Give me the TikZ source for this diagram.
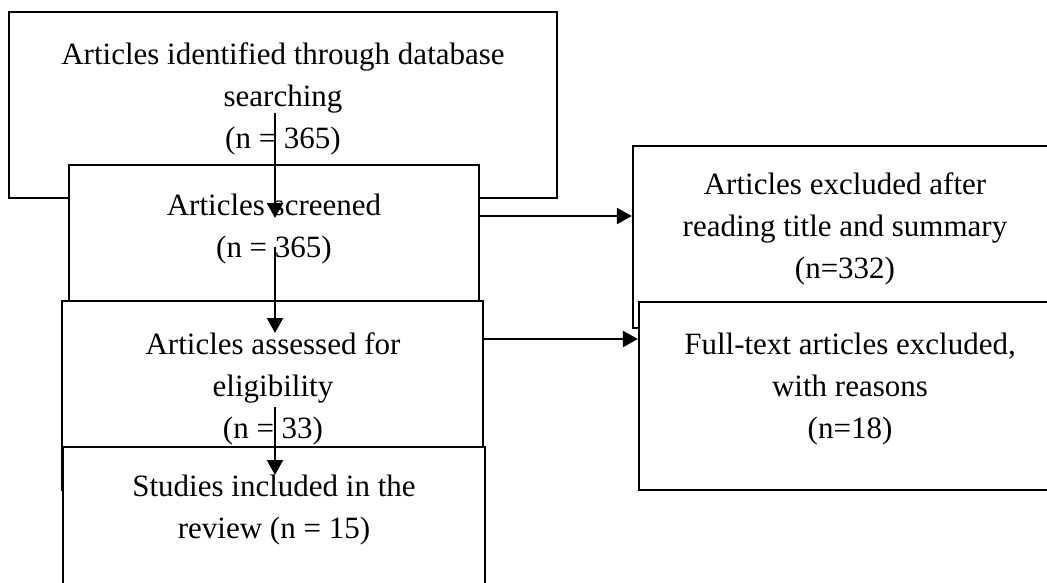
\documentclass[tikz,border=0pt]{standalone}
\usepackage{fontspec}
\setmainfont{Liberation Serif}
\usetikzlibrary{arrows.meta}
\begin{document}
\begin{tikzpicture}[x=1pt,y=-1pt,
  box/.style={draw=black,fill=white,line width=2.2pt,inner sep=0pt,rectangle},
  txt/.style={align=center,inner sep=0pt,font=\fontsize{31}{42}\selectfont,anchor=base},
  arr/.style={line width=2.2pt,-{Triangle[length=15pt,width=16pt]}}]
\useasboundingbox (0,0) rectangle (1047,582);
\clip (0,0) rectangle (1047,582);
% left column
\node[box,minimum width=548pt,minimum height=186pt] (A) at (283,105) {};
\node[txt] (tA) at (283,148) {Articles identified through database\\searching\\(n = 365)};
\node[box,minimum width=410pt,minimum height=136pt] (B) at (274,233) {};
\node[txt] (tB) at (274,257) {Articles screened\\(n = 365)};
\node[box,minimum width=421pt,minimum height=189pt] (C) at (272.5,395.5) {};
\node[txt] (tC) at (273,438) {Articles assessed for\\eligibility\\(n = 33)};
\node[box,minimum width=422pt,minimum height=153pt] (D) at (274,523.5) {};
\node[txt] (tD) at (274,538) {Studies included in the\\review (n = 15)};
% right column
\node[box,minimum width=424pt,minimum height=182pt] (E) at (845,237) {};
\node[txt] (tE) at (845,278) {Articles excluded after\\reading title and summary\\(n=332)};
\node[box,minimum width=422pt,minimum height=188pt] (F) at (850,396) {};
\node[txt] (tF) at (850,438) {Full-text articles excluded,\\with reasons\\(n=18)};
% connector ends
\coordinate (a1) at (275,113);
\coordinate (a2) at (275,218);
\coordinate (b1) at (275,247);
\coordinate (b2) at (275,333);
\coordinate (c1) at (275,407);
\coordinate (c2) at (275,475);
\coordinate (ey) at (0,216);
\coordinate (fy) at (0,339);
% connectors
\draw[arr] (a1) -- (a2);
\draw[arr] (b1) -- (b2);
\draw[arr] (c1) -- (c2);
\draw[arr] (B.east |- ey) -- (E.west |- ey);
\draw[arr] (C.east |- fy) -- (F.west |- fy);
\end{tikzpicture}
\end{document}
